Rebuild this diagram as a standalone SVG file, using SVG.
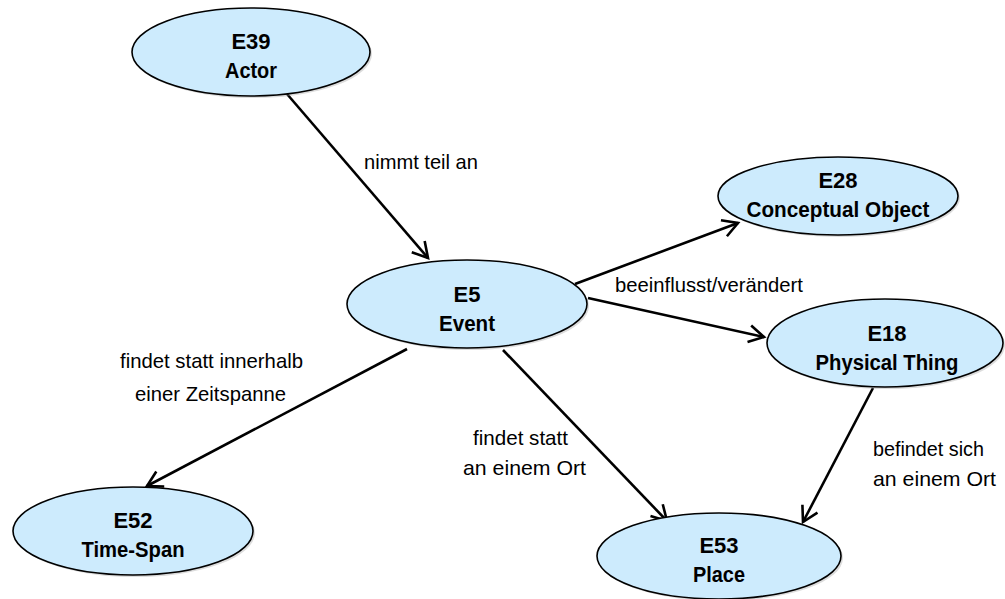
<svg xmlns="http://www.w3.org/2000/svg" width="1005" height="599" viewBox="0 0 1005 599">
<style>
.shadow{fill:#9a9a9a;opacity:0.35}
.node{fill:#CDEBFD;stroke:#000;stroke-width:1.6}
.nt{font-family:"Liberation Sans",Arial,sans-serif;font-weight:bold;font-size:22px;text-anchor:middle;fill:#000}
.lb{font-family:"Liberation Sans",Arial,sans-serif;font-size:21px;fill:#000}
.edge{stroke:#000;stroke-width:2.6;fill:none;marker-end:url(#arr)}
</style>
<defs>
<marker id="arr" markerUnits="userSpaceOnUse" markerWidth="30" markerHeight="30" viewBox="-20 -15 30 30" refX="0" refY="0" orient="auto">
<path d="M-15,-8.5 L0,0 L-15,8.5" fill="none" stroke="#000" stroke-width="2.6"/>
</marker>
</defs>
<rect width="1005" height="599" fill="#fff"/>
<g id="connectors">
<line class="edge" x1="287" y1="94" x2="428" y2="258"/>
<line class="edge" x1="575" y1="284" x2="738" y2="223"/>
<line class="edge" x1="588" y1="298" x2="764" y2="337"/>
<line class="edge" x1="407" y1="349" x2="147" y2="486"/>
<line class="edge" x1="503" y1="350" x2="667" y2="521"/>
<line class="edge" x1="873" y1="388" x2="803" y2="522"/>
</g>
<g id="edge-labels">
<text class="lb" x="364" y="169" textLength="114" lengthAdjust="spacingAndGlyphs">nimmt teil an</text>
<text class="lb" x="615" y="292" textLength="188" lengthAdjust="spacingAndGlyphs">beeinflusst/verändert</text>
<text class="lb" x="120" y="368" textLength="183" lengthAdjust="spacingAndGlyphs">findet statt innerhalb</text>
<text class="lb" x="135" y="401" textLength="151" lengthAdjust="spacingAndGlyphs">einer Zeitspanne</text>
<text class="lb" x="473" y="445" textLength="95" lengthAdjust="spacingAndGlyphs">findet statt</text>
<text class="lb" x="463" y="475" textLength="123" lengthAdjust="spacingAndGlyphs">an einem Ort</text>
<text class="lb" x="873" y="456" textLength="111" lengthAdjust="spacingAndGlyphs">befindet sich</text>
<text class="lb" x="873" y="486" textLength="123" lengthAdjust="spacingAndGlyphs">an einem Ort</text>
</g>
<g id="E39">
<ellipse class="shadow" cx="253" cy="54" rx="119" ry="44"/>
<ellipse class="node" cx="251" cy="52" rx="119" ry="44"/>
<text class="nt" x="251" y="49">E39</text>
<text class="nt" x="251" y="78" textLength="52" lengthAdjust="spacingAndGlyphs">Actor</text>
</g>
<g id="E5">
<ellipse class="shadow" cx="469" cy="306" rx="120" ry="44"/>
<ellipse class="node" cx="467" cy="304" rx="120" ry="44"/>
<text class="nt" x="467" y="302">E5</text>
<text class="nt" x="467" y="331" textLength="56" lengthAdjust="spacingAndGlyphs">Event</text>
</g>
<g id="E28">
<ellipse class="shadow" cx="840" cy="198" rx="120" ry="39"/>
<ellipse class="node" cx="838" cy="196" rx="120" ry="39"/>
<text class="nt" x="838" y="188">E28</text>
<text class="nt" x="838" y="217" textLength="183" lengthAdjust="spacingAndGlyphs">Conceptual Object</text>
</g>
<g id="E18">
<ellipse class="shadow" cx="887" cy="345" rx="118" ry="44"/>
<ellipse class="node" cx="885" cy="343" rx="118" ry="44"/>
<text class="nt" x="887" y="341">E18</text>
<text class="nt" x="887" y="370" textLength="143" lengthAdjust="spacingAndGlyphs">Physical Thing</text>
</g>
<g id="E52">
<ellipse class="shadow" cx="135" cy="533" rx="120" ry="44"/>
<ellipse class="node" cx="133" cy="531" rx="120" ry="44"/>
<text class="nt" x="133" y="528">E52</text>
<text class="nt" x="133" y="557" textLength="103" lengthAdjust="spacingAndGlyphs">Time-Span</text>
</g>
<g id="E53">
<ellipse class="shadow" cx="721" cy="558" rx="122" ry="43"/>
<ellipse class="node" cx="719" cy="556" rx="122" ry="43"/>
<text class="nt" x="719" y="553">E53</text>
<text class="nt" x="719" y="582" textLength="52" lengthAdjust="spacingAndGlyphs">Place</text>
</g>
</svg>
